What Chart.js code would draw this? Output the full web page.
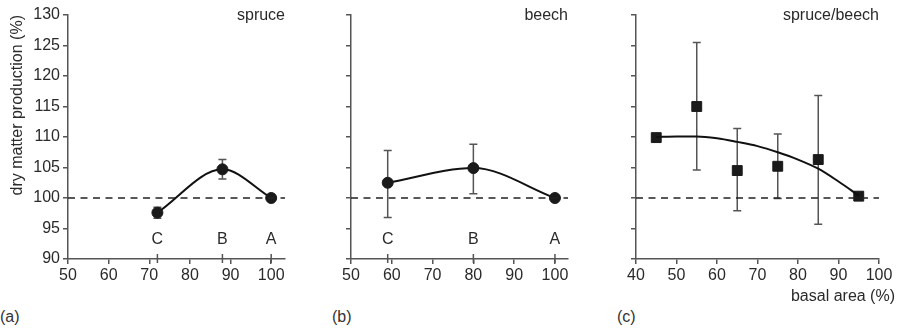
<!DOCTYPE html>
<html lang="en">
<head>
    <meta charset="UTF-8">
    <title>Dry matter production vs basal area</title>
    <script src="https://cdn.jsdelivr.net/npm/chart.js"></script>
    <style>
        body {
            margin: 0;
            background: #fff;
            font-family: "Liberation Sans", Arial, sans-serif;
        }
        .panel {
            position: absolute;
            top: 0;
        }
        .tag {
            position: absolute;
            top: 308px;
            font-size: 16px;
            line-height: 18px;
            color: #333;
        }
    </style>
</head>
<body>
    <canvas id="chartA" class="panel" width="300" height="305" style="left:0px"></canvas>
    <canvas id="chartB" class="panel" width="290" height="305" style="left:300px"></canvas>
    <canvas id="chartC" class="panel" width="313" height="305" style="left:590px"></canvas>
    <div class="tag" style="left:0px">(a)</div>
    <div class="tag" style="left:332px">(b)</div>
    <div class="tag" style="left:617px">(c)</div>

    <script>
        // values
        const standLabels = ['C', 'B', 'A'];
        const yTicks = [90, 95, 100, 105, 110, 115, 120, 125, 130];

        const spruceX = [72, 88, 100];
        const spruceY = [97.6, 104.7, 100];
        const spruceLo = [96.7, 103.1, null];
        const spruceHi = [98.5, 106.3, null];

        const beechX = [59, 80, 100];
        const beechY = [102.5, 104.9, 100];
        const beechLo = [96.8, 100.7, null];
        const beechHi = [107.8, 108.8, null];

        const mixX = [45, 55, 65, 75, 85, 95];
        const mixY = [109.9, 115.0, 104.5, 105.2, 106.3, 100.3];
        const mixLo = [null, 104.6, 97.9, 99.9, 95.7, null];
        const mixHi = [null, 125.5, 111.4, 110.5, 116.8, null];

        const fitX = [45, 50, 55, 60, 65, 70, 75, 80, 85, 90, 95];
        const fitY = [110.0, 110.1, 110.1, 109.8, 109.2, 108.5, 107.5, 106.3, 104.8, 102.7, 100.4];

        const FONT = '"Liberation Sans", Arial, sans-serif';
        const TEXT = '#2a2a2a';
        const AXIS = '#555';

        // error bars, panel title, stand labels
        const annot = {
            id: 'annot',
            beforeDatasetsDraw(chart, args, opts) {
                const ctx = chart.ctx;
                const xs = chart.scales.x, ys = chart.scales.y;
                ctx.save();
                ctx.strokeStyle = '#555';
                ctx.lineWidth = 1.5;
                chart.data.datasets.forEach(ds => {
                    if (!ds.errLo) return;
                    ds.data.forEach((p, i) => {
                        if (ds.errLo[i] == null) return;
                        const px = xs.getPixelForValue(p.x);
                        const lo = ys.getPixelForValue(ds.errLo[i]);
                        const hi = ys.getPixelForValue(ds.errHi[i]);
                        ctx.beginPath();
                        ctx.moveTo(px, lo); ctx.lineTo(px, hi);
                        ctx.moveTo(px - 4, lo); ctx.lineTo(px + 4, lo);
                        ctx.moveTo(px - 4, hi); ctx.lineTo(px + 4, hi);
                        ctx.stroke();
                    });
                });
                // small marks on the x axis at the stand positions
                if (opts.labels) {
                    ctx.strokeStyle = AXIS;
                    ctx.beginPath();
                    opts.labelX.forEach(v => {
                        const px = xs.getPixelForValue(v);
                        ctx.moveTo(px, chart.chartArea.bottom - 5);
                        ctx.lineTo(px, chart.chartArea.bottom + 4);
                    });
                    ctx.stroke();
                }
                ctx.restore();
            },
            afterDatasetsDraw(chart, args, opts) {
                const ctx = chart.ctx;
                const xs = chart.scales.x, ys = chart.scales.y;
                const area = chart.chartArea;
                ctx.save();
                ctx.fillStyle = TEXT;
                ctx.font = '16px ' + FONT;
                ctx.textBaseline = 'middle';
                ctx.textAlign = 'right';
                ctx.fillText(opts.title, area.right, area.top + 1);
                if (opts.labels) {
                    ctx.textAlign = 'center';
                    opts.labels.forEach((t, i) => {
                        ctx.fillText(t, xs.getPixelForValue(opts.labelX[i]), ys.getPixelForValue(opts.labelY));
                    });
                }
                if (opts.xTitle) {
                    ctx.textAlign = 'right';
                    ctx.fillText(opts.xTitle, area.right + 16, area.bottom + 38);
                }
                ctx.restore();
            }
        };

        function toPoints(xs, ys) {
            return xs.map((x, i) => ({ x: x, y: ys[i] }));
        }

        function makeChart(id, o) {
            const datasets = [{
                data: [{ x: o.xMin, y: 100 }, { x: o.xMax, y: 100 }],
                showLine: true,
                borderColor: '#222',
                borderWidth: 1.5,
                borderDash: [7, 5.5],
                pointRadius: 0
            }];
            if (o.fitX) {
                datasets.push({
                    data: toPoints(o.fitX, o.fitY),
                    showLine: true,
                    borderColor: '#111',
                    borderWidth: 2,
                    pointRadius: 0,
                    cubicInterpolationMode: 'monotone'
                });
            }
            datasets.push({
                data: toPoints(o.x, o.y),
                errLo: o.lo,
                errHi: o.hi,
                showLine: !o.fitX,
                borderColor: '#111',
                borderWidth: 2,
                cubicInterpolationMode: 'monotone',
                pointStyle: o.square ? 'rect' : 'circle',
                pointRadius: o.square ? 7 : 5.5,
                pointBackgroundColor: '#1a1a1a',
                pointBorderColor: '#1a1a1a',
                pointBorderWidth: 1
            });

            return new Chart(document.getElementById(id), {
                type: 'scatter',
                data: { datasets: datasets },
                options: {
                    responsive: false,
                    animation: false,
                    layout: { padding: { top: 15, right: o.padRight, left: 0, bottom: 0 } },
                    plugins: {
                        legend: { display: false },
                        tooltip: { enabled: false },
                        annot: {
                            title: o.title,
                            labels: o.labels,
                            labelX: o.x,
                            labelY: 93.1,
                            xTitle: o.xTitle
                        }
                    },
                    scales: {
                        x: {
                            type: 'linear',
                            min: o.xMin,
                            max: o.xMax,
                            afterFit: s => { s.height = 46; },
                            ticks: {
                                stepSize: 10,
                                includeBounds: false,
                                color: TEXT,
                                padding: 2,
                                maxRotation: 0,
                                font: { family: FONT, size: 16 }
                            },
                            grid: { drawOnChartArea: false, drawTicks: true, tickLength: 5, color: AXIS, lineWidth: 1.5 },
                            border: { color: AXIS, width: 1.5 }
                        },
                        y: {
                            type: 'linear',
                            min: 90,
                            max: 130,
                            afterFit: s => { s.width = o.yWidth; },
                            afterBuildTicks: s => { s.ticks = yTicks.map(v => ({ value: v })); },
                            ticks: {
                                display: o.yLabels,
                                color: TEXT,
                                padding: 3,
                                font: { family: FONT, size: 16 }
                            },
                            title: {
                                display: o.yLabels,
                                text: 'dry matter production (%)',
                                align: 'end',
                                color: TEXT,
                                padding: { top: 8, bottom: 0 },
                                font: { family: FONT, size: 16 }
                            },
                            grid: { drawOnChartArea: false, drawTicks: true, tickLength: 5, color: AXIS, lineWidth: 1.5 },
                            border: { color: AXIS, width: 1.5 }
                        }
                    }
                },
                plugins: [annot]
            });
        }

        makeChart('chartA', {
            x: spruceX, y: spruceY, lo: spruceLo, hi: spruceHi,
            xMin: 50, xMax: 103.4, yWidth: 68, padRight: 15, yLabels: true,
            title: 'spruce', labels: standLabels
        });

        makeChart('chartB', {
            x: beechX, y: beechY, lo: beechLo, hi: beechHi,
            xMin: 50, xMax: 103.2, yWidth: 51, padRight: 22, yLabels: false,
            title: 'beech', labels: standLabels
        });

        makeChart('chartC', {
            x: mixX, y: mixY, lo: mixLo, hi: mixHi, fitX: fitX, fitY: fitY,
            xMin: 40, xMax: 100, yWidth: 46, padRight: 24, yLabels: false,
            square: true, title: 'spruce/beech', xTitle: 'basal area (%)'
        });
    </script>
</body>
</html>
